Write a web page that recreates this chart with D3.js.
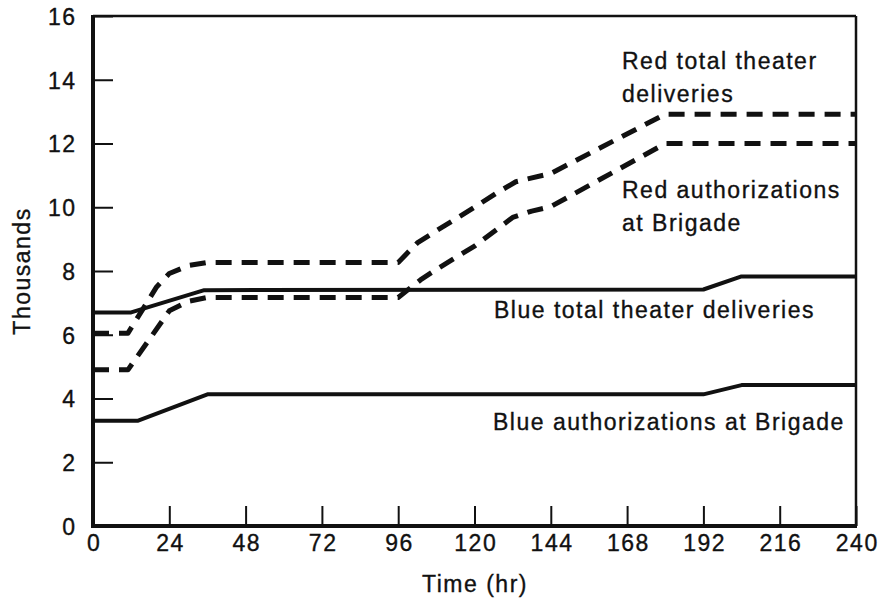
<!DOCTYPE html>
<html>
<head>
<meta charset="utf-8">
<script src="https://cdn.jsdelivr.net/npm/d3@7"></script>
<style>
  html, body { margin: 0; padding: 0; background: #fff; }
  svg { display: block; }
  text { font-family: "Liberation Sans", Arial, Helvetica, sans-serif; fill: #111; stroke: #111; stroke-width: 0.35px; }
</style>
</head>
<body>
<svg id="chart" width="879" height="604"></svg>
<script>
// ---- data ----
const xTicks = [0, 24, 48, 72, 96, 120, 144, 168, 192, 216, 240];
const yTicks = [0, 2, 4, 6, 8, 10, 12, 14, 16];

const blueAuthHours  = [0, 14, 36, 192, 204, 240];
const blueAuthValues = [3.3, 3.3, 4.13, 4.13, 4.42, 4.42];

const blueTotalHours  = [0, 12, 35, 192, 204, 240];
const blueTotalValues = [6.7, 6.7, 7.4, 7.42, 7.83, 7.83];

const redAuthHours  = [0, 11, 24, 30, 36, 96, 103, 108, 120, 132, 138, 144, 180, 240];
const redAuthValues = [4.9, 4.9, 6.75, 7.05, 7.17, 7.17, 7.72, 8.05, 8.78, 9.68, 9.88, 10.02, 12.0, 12.0];

const redTotalHours  = [0, 11, 20, 24, 30, 36, 96, 102, 108, 120, 127, 133, 144, 180, 240];
const redTotalValues = [6.05, 6.05, 7.5, 7.92, 8.17, 8.27, 8.27, 8.88, 9.26, 10.0, 10.45, 10.8, 11.06, 12.92, 12.92];

const seriesNames = ["Blue authorizations at Brigade", "Blue total theater deliveries",
                     "Red authorizations at Brigade", "Red total theater deliveries"];
const xTitle = "Time (hr)";
const yTitle = "Thousands";

// ---- layout ----
const W = 879, H = 604;
const margin = {left: 93, top: 16, right: 23, bottom: 78};
const iw = W - margin.left - margin.right;
const ih = H - margin.top - margin.bottom;
const FS = 23, LS = 1.5;

const svg = d3.select("#chart");
const g = svg.append("g").attr("transform", `translate(${margin.left},${margin.top})`);

const x = d3.scaleLinear().domain([0, 240]).range([0, iw]);
const y = d3.scaleLinear().domain([0, 16]).range([ih, 0]);

// axes with inward ticks
const yAxis = d3.axisLeft(y).tickValues(yTicks).tickSizeInner(-20).tickSizeOuter(0).tickPadding(16.5);
const gy = g.append("g").call(yAxis);
gy.select(".domain").remove();
gy.selectAll(".tick line").attr("stroke", "#111").attr("stroke-width", 2);
gy.selectAll(".tick text").attr("font-size", FS).attr("letter-spacing", LS)
  .attr("fill", "#111").attr("dy", "0.36em")
  .style("font-family", '"Liberation Sans", Arial, sans-serif');

const xAxis = d3.axisBottom(x).tickValues(xTicks).tickSizeInner(-20).tickSizeOuter(0).tickPadding(9);
const gx = g.append("g").attr("transform", `translate(0,${ih})`).call(xAxis);
gx.select(".domain").remove();
gx.selectAll(".tick line").attr("stroke", "#111").attr("stroke-width", 2);
gx.selectAll(".tick text").attr("font-size", FS).attr("letter-spacing", LS)
  .attr("fill", "#111").attr("dx", LS / 2)
  .style("font-family", '"Liberation Sans", Arial, sans-serif');

// frame
g.append("line").attr("x1", 0).attr("x2", iw).attr("y1", 0).attr("y2", 0)
  .attr("stroke", "#111").attr("stroke-width", 2.5);
g.append("line").attr("x1", iw).attr("x2", iw).attr("y1", 0).attr("y2", ih)
  .attr("stroke", "#111").attr("stroke-width", 2.5);
g.append("line").attr("x1", 0).attr("x2", 0).attr("y1", -1).attr("y2", ih + 2)
  .attr("stroke", "#111").attr("stroke-width", 4);
g.append("line").attr("x1", -2).attr("x2", iw + 1).attr("y1", ih).attr("y2", ih)
  .attr("stroke", "#111").attr("stroke-width", 4);

// lines
const line = d3.line().x(d => x(d[0])).y(d => y(d[1])).curve(d3.curveLinear);
const zip = (a, b) => a.map((v, i) => [v, b[i]]);

const series = [
  {pts: zip(blueAuthHours, blueAuthValues), dash: null, sw: 4},
  {pts: zip(blueTotalHours, blueTotalValues), dash: null, sw: 4},
  {pts: zip(redAuthHours, redAuthValues), dash: "16,10", sw: 5},
  {pts: zip(redTotalHours, redTotalValues), dash: "16,10", sw: 5}
];
g.selectAll("path.series").data(series).join("path")
  .attr("class", "series")
  .attr("d", d => line(d.pts))
  .attr("fill", "none")
  .attr("stroke", "#111")
  .attr("stroke-width", d => d.sw)
  .attr("stroke-linejoin", "round")
  .attr("stroke-dasharray", d => d.dash);

// annotations (pixel positions in svg coords)
const ann = svg.append("g").attr("font-size", FS).attr("letter-spacing", LS);
function label(lines, px, py, lh) {
  const t = ann.append("text").attr("x", px).attr("y", py);
  lines.forEach((s, i) => t.append("tspan").attr("x", px).attr("dy", i === 0 ? 0 : lh).text(s));
}
label(["Red total theater", "deliveries"], 622, 69, 33);
label(["Red authorizations", "at Brigade"], 622, 198, 33);
label([seriesNames[1]], 494, 318, 0);
label([seriesNames[0]], 493, 430, 0);

// axis titles
svg.append("text").attr("x", 475).attr("y", 592).attr("text-anchor", "middle")
  .attr("font-size", FS).attr("letter-spacing", LS).text(xTitle);
svg.append("text").attr("transform", "translate(30,271) rotate(-90)")
  .attr("text-anchor", "middle").attr("font-size", FS).attr("letter-spacing", LS).text(yTitle);
</script>
</body>
</html>
